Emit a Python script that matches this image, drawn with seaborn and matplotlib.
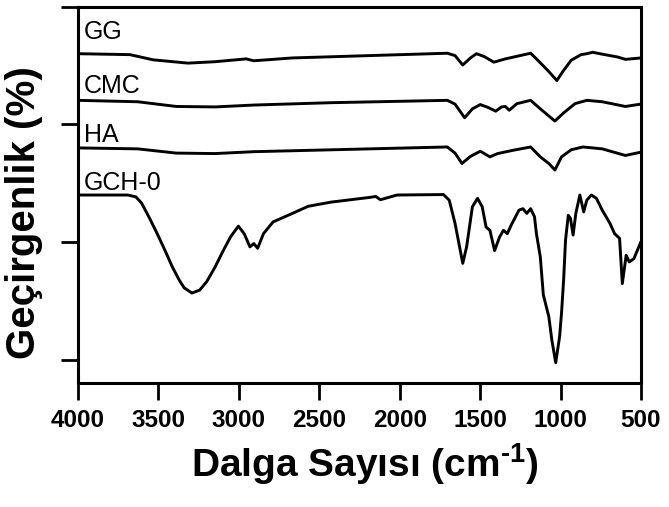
import matplotlib
matplotlib.use("Agg")
import matplotlib.pyplot as plt
import seaborn as sns
import pandas as pd

sns.set_theme(style="white")
plt.rcParams['font.family'] = ['Liberation Sans', 'DejaVu Sans']
plt.rcParams['mathtext.default'] = 'regular'
for k in ['text.color', 'axes.labelcolor', 'xtick.color', 'ytick.color', 'axes.edgecolor']:
    plt.rcParams[k] = 'black'

# ---- data (wavenumber cm^-1, transmittance offset units) ----
gch0_w = [4000, 3690, 3640, 3605, 3560, 3509, 3460, 3413, 3370, 3340, 3292, 3244, 3200, 3148, 3100,
          3052, 3003, 2967, 2931, 2907, 2883,
          2847, 2787, 2667, 2570, 2426, 2185, 2149, 2120, 2017, 1728, 1692, 1656, 1608, 1584, 1548,
          1516, 1487, 1463, 1439, 1410, 1379, 1355, 1331, 1307, 1258, 1234, 1210, 1186, 1162, 1150,
          1126, 1107, 1073, 1054, 1030, 1006, 994, 981, 969, 952, 938, 922, 905, 880, 856, 837, 808,
          777, 741, 693, 664, 633, 616, 592, 573, 544, 500]
gch0_t = [35.0, 35.0, 34.6, 33.3, 30.4, 26.9, 23.3, 19.7, 16.9, 15.3, 14.2, 14.8, 16.6, 19.7, 23.0,
          26.1, 28.4, 26.8, 24.0, 24.7, 23.7,
          26.8, 29.3, 31.1, 32.6, 33.5, 34.5, 34.7, 34.0, 35.0, 35.1, 33.9, 29.0, 20.5, 24.0, 32.5,
          34.3, 32.5, 28.2, 27.5, 23.2, 26.1, 27.5, 26.8, 28.6, 31.8, 32.1, 31.1, 32.1, 30.4, 26.8,
          21.9, 13.8, 9.2, 4.2, -0.6, 4.9, 9.9, 16.9, 25.4, 30.7, 30.0, 26.5, 31.1, 35.0, 31.4, 33.9, 35.0,
          34.3, 31.8, 29.0, 26.8, 25.8, 16.2, 22.2, 20.8, 21.5, 25.1]

gg_w = [4000, 3677, 3533, 3316, 3148, 2955, 2907, 2667, 2185, 1704, 1656, 1608, 1560, 1523, 1475,
        1415, 1343, 1186, 1150, 1078, 1023, 982, 934, 873, 837, 800, 741, 645, 597, 500]
gg_t = [65.0, 64.8, 63.7, 63.0, 63.3, 63.9, 63.5, 64.1, 64.6, 65.1, 64.6, 62.6, 64.1, 65.0, 64.4,
        63.2, 63.9, 65.1, 63.9, 61.4, 59.3, 61.4, 63.6, 64.8, 65.0, 65.3, 64.9, 64.3, 63.8, 64.1]

cmc_w = [4000, 3629, 3389, 3148, 2907, 2426, 1704, 1656, 1596, 1548, 1499, 1451, 1403, 1367, 1343,
         1319, 1271, 1186, 1126, 1035, 982, 910, 837, 741, 597, 500]
cmc_t = [55.1, 54.8, 53.8, 53.7, 54.1, 54.6, 55.1, 54.3, 51.4, 53.3, 54.2, 53.6, 52.8, 53.7, 53.8,
         53.0, 54.4, 55.1, 53.3, 50.7, 52.4, 54.4, 55.1, 54.8, 53.8, 54.3]

ha_w = [4000, 3629, 3389, 3148, 2907, 2426, 1704, 1656, 1613, 1560, 1499, 1439, 1391, 1295, 1186,
        1126, 1073, 1035, 994, 934, 861, 741, 597, 500]
ha_t = [45.0, 44.8, 43.9, 43.8, 44.2, 44.6, 45.2, 43.9, 41.7, 43.2, 44.3, 43.1, 43.8, 44.5, 45.2,
        43.1, 41.7, 40.3, 43.1, 44.6, 45.2, 44.8, 43.4, 44.1]

series_names = ["GG", "CMC", "HA", "GCH-0"]
label_y = [68.2, 56.6, 46.2, 36.0]
x_ticks = [4000, 3500, 3000, 2500, 2000, 1500, 1000, 500]
y_ticks = [0, 25, 50, 75]

frames = []
for name, w, t in zip(series_names, [gg_w, cmc_w, ha_w, gch0_w], [gg_t, cmc_t, ha_t, gch0_t]):
    frames.append(pd.DataFrame({"w": w, "t": t, "s": name}))
df = pd.concat(frames, ignore_index=True)

fig = plt.figure(figsize=(6.69, 5.07), dpi=100)
ax = fig.add_axes([0.1166, 0.2446, 0.8415, 0.7424])

sns.lineplot(data=df, x="w", y="t", units="s", estimator=None, sort=False,
             color="black", linewidth=2.1, ax=ax, legend=False)

for name, yv in zip(series_names, label_y):
    ax.text(3962, yv, name, fontsize=18, color="black", va="baseline", ha="left")

ax.set_xlim(4000, 500)
ax.set_ylim(-4.9, 75)
ax.set_xticks(x_ticks)
ax.set_xticklabels([str(v) for v in x_ticks], fontsize=17.5, fontweight="bold")
ax.set_yticks(y_ticks)
ax.set_yticklabels([])
ax.tick_params(axis="both", direction="out", length=12, width=2, color="black",
               bottom=True, left=True, pad=7)
for sp in ax.spines.values():
    sp.set_linewidth(2.2)
    sp.set_color("black")
ax.set_xlabel("Dalga Sayısı (cm$^{\u20101}$)", fontsize=28, fontweight="bold")
ax.xaxis.set_label_coords(0.51, -0.155)
ax.set_ylabel("Geçirgenlik (%)", fontsize=29, fontweight="bold")
ax.yaxis.set_label_coords(-0.062, 0.454)

fig.savefig("out.png", dpi=100)
